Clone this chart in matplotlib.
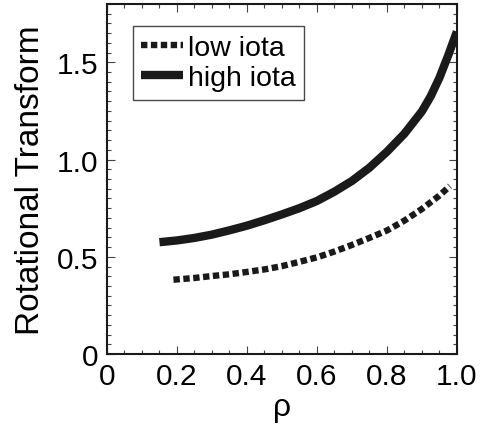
import matplotlib
matplotlib.use("Agg")
import matplotlib.pyplot as plt
from matplotlib.ticker import MultipleLocator, FixedLocator, FixedFormatter

plt.rcParams['font.family'] = ['Liberation Sans', 'DejaVu Sans']

# Rotational transform profiles vs normalized radius rho
rho_low = [0.19, 0.25, 0.30, 0.35, 0.40, 0.45, 0.50, 0.55, 0.60, 0.65,
           0.70, 0.75, 0.80, 0.85, 0.90, 0.95, 0.98]
iota_low = [0.382, 0.391, 0.401, 0.410, 0.422, 0.435, 0.452, 0.474, 0.497, 0.527,
            0.561, 0.597, 0.635, 0.686, 0.746, 0.815, 0.864]

rho_high = [0.15, 0.20, 0.25, 0.30, 0.35, 0.40, 0.45, 0.50, 0.55, 0.60,
            0.65, 0.70, 0.75, 0.80, 0.85, 0.90, 0.925, 0.95, 0.975, 1.00]
iota_high = [0.575, 0.584, 0.597, 0.614, 0.636, 0.660, 0.688, 0.718, 0.750, 0.787,
             0.835, 0.890, 0.958, 1.040, 1.133, 1.248, 1.325, 1.420, 1.535, 1.658]

xticks = [0, 0.2, 0.4, 0.6, 0.8, 1.0]
xtick_labels = ["0", "0.2", "0.4", "0.6", "0.8", "1.0"]
yticks = [0, 0.5, 1.0, 1.5]
ytick_labels = ["0", "0.5", "1.0", "1.5"]

fig = plt.figure(figsize=(4.84, 4.27), dpi=100)
ax = fig.add_axes([0.221, 0.1686, 0.723, 0.8197])

low_line, = ax.plot(rho_low, iota_low, color='#1a1a1a', lw=4.6,
                    solid_capstyle='butt', dash_capstyle='butt',
                    dash_joinstyle='miter', label='low iota')
low_line.set_dashes((1.0, 0.55))
ax.plot(rho_high, iota_high, color='#1a1a1a', lw=6.0,
        solid_capstyle='butt', solid_joinstyle='round', label='high iota')

ax.set_xlim(0, 1.0)
ax.set_ylim(0, 1.8)

ax.xaxis.set_major_locator(FixedLocator(xticks))
ax.xaxis.set_major_formatter(FixedFormatter(xtick_labels))
ax.xaxis.set_minor_locator(MultipleLocator(0.05))
ax.yaxis.set_major_locator(FixedLocator(yticks))
ax.yaxis.set_major_formatter(FixedFormatter(ytick_labels))
ax.yaxis.set_minor_locator(MultipleLocator(0.05))

ax.tick_params(which='both', direction='in', top=True, right=True,
               color='#444444', width=0.8)
ax.tick_params(which='major', length=6, labelsize=21.5, pad=6)
ax.tick_params(which='minor', length=3)
for s in ax.spines.values():
    s.set_linewidth(1.5)
    s.set_color('#1a1a1a')

ax.set_ylabel('Rotational Transform', fontsize=24, labelpad=8)
ax.set_xlabel('ρ', fontsize=23, labelpad=1)

leg = ax.legend(loc='upper left', bbox_to_anchor=(0.074, 0.937),
                borderaxespad=0, fontsize=20.5, frameon=True, fancybox=False,
                edgecolor='#1a1a1a', handlelength=1.45, handletextpad=0.18,
                borderpad=0.3, labelspacing=0.16)
leg.get_frame().set_linewidth(1.0)

fig.savefig('out.png', dpi=100)
